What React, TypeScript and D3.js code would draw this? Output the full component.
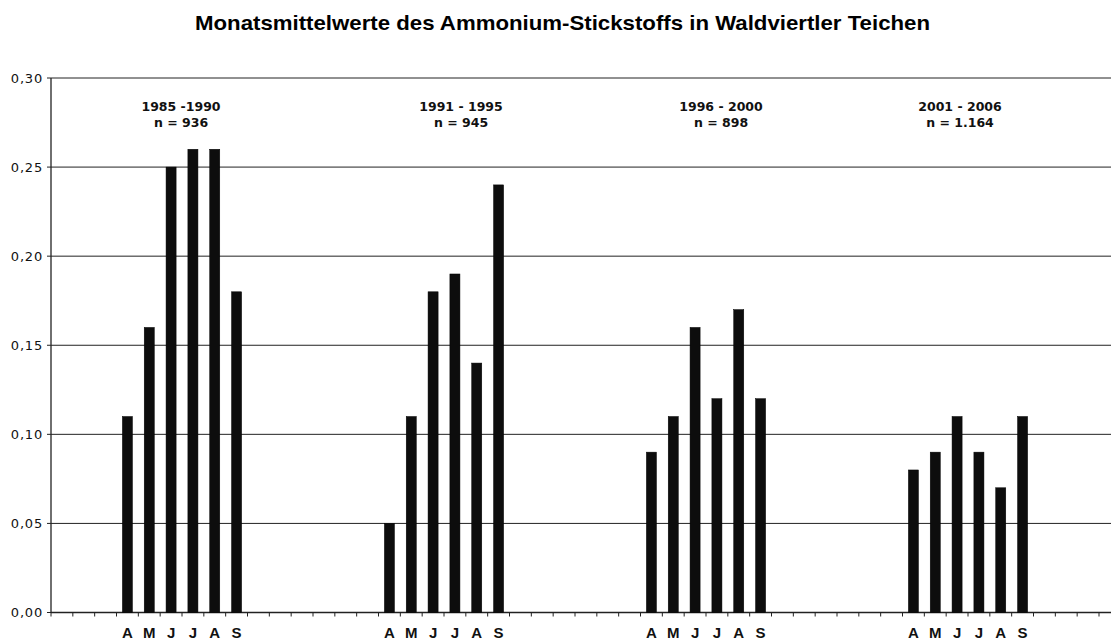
import React from "react";
import * as d3 from "d3";

const title = "Monatsmittelwerte des Ammonium-Stickstoffs in Waldviertler Teichen";
const months = ["A", "M", "J", "J", "A", "S"];
const periods = ["1985 -1990", "1991 - 1995", "1996 - 2000", "2001 - 2006"];
const sampleSizes = ["n = 936", "n = 945", "n = 898", "n = 1.164"];
const values1 = [0.11, 0.16, 0.25, 0.26, 0.26, 0.18];
const values2 = [0.05, 0.11, 0.18, 0.19, 0.14, 0.24];
const values3 = [0.09, 0.11, 0.16, 0.12, 0.17, 0.12];
const values4 = [0.08, 0.09, 0.11, 0.09, 0.07, 0.11];
const yTicks = [0, 0.05, 0.1, 0.15, 0.2, 0.25, 0.3];

const W = 1111;
const H = 641;
const left = 51;
const right = 1099;
const top = 78;
const bottom = 612.5;
const slotsPerGroup = 12;
const leadSlots = 3;

export default function App() {
  const groups = [values1, values2, values3, values4];
  const nSlots = groups.length * slotsPerGroup;
  const slotIdx = d3.range(nSlots);
  const x = d3
    .scaleBand<number>()
    .domain(slotIdx)
    .range([left, right])
    .paddingInner(0.54)
    .paddingOuter(0.27);
  const step = x.step();
  const y = d3.scaleLinear().domain([0, 0.3]).range([bottom, top]);
  const fmt = (v: number) => d3.format(".2f")(v).replace(".", ",");

  const bars: { slot: number; v: number; m: string }[] = [];
  groups.forEach((g, gi) => {
    g.forEach((v, i) => {
      bars.push({ slot: gi * slotsPerGroup + leadSlots + i, v, m: months[i] });
    });
  });

  const font = "'Liberation Sans', Arial, Helvetica, sans-serif";
  const wide = "'DejaVu Sans', Verdana, sans-serif";
  const labelOffsets = [-1, 17, 15, -8];

  return (
    <svg width={W} height={H} style={{ position: "absolute", left: 0, top: 0, background: "#fff" }}>
      <rect x={0} y={0} width={W} height={H} fill="#fff" />
      <text
        x={195}
        y={30}
        textLength={735}
        lengthAdjust="spacingAndGlyphs"
        fontFamily={font}
        fontWeight="bold"
        fontSize={21}
        fill="#000"
      >
        {title}
      </text>
      {yTicks.map((t) => (
        <g key={t}>
          {t > 0 && <line x1={left} x2={W} y1={y(t)} y2={y(t)} stroke="#222" strokeWidth={1} />}
          <line x1={left - 4} x2={left} y1={y(t)} y2={y(t)} stroke="#222" strokeWidth={1} />
          <text x={43} y={y(t) + 4.5} textAnchor="end" fontFamily={wide} fontSize={13} letterSpacing={0.8} fill="#111">
            {fmt(t)}
          </text>
        </g>
      ))}
      <line x1={left} x2={left} y1={top} y2={bottom} stroke="#222" strokeWidth={1.3} />
      <line x1={left} x2={W} y1={bottom} y2={bottom} stroke="#222" strokeWidth={1.3} />
      {d3.range(nSlots + 1).map((k) => (
        <line key={k} x1={left + k * step} x2={left + k * step} y1={bottom} y2={bottom + 4} stroke="#222" strokeWidth={1} />
      ))}
      {bars.map((b, i) => (
        <g key={i}>
          <rect x={x(b.slot)} y={y(b.v)} width={x.bandwidth()} height={bottom - y(b.v)} fill="#0d0d0d" stroke="#000" strokeWidth={0.5} />
          <text x={(x(b.slot) as number) + x.bandwidth() / 2} y={638} textAnchor="middle" fontFamily={font} fontWeight="bold" fontSize={15} fill="#111">
            {b.m}
          </text>
        </g>
      ))}
      {periods.map((p, gi) => {
        const cx = left + (gi * slotsPerGroup + leadSlots + 3) * step + labelOffsets[gi];
        return (
          <g key={p}>
            <text x={cx} y={111} textAnchor="middle" fontFamily={wide} fontWeight="bold" fontSize={12.5} fill="#111">
              {p}
            </text>
            <text x={cx} y={127} textAnchor="middle" fontFamily={wide} fontWeight="bold" fontSize={12.5} fill="#111">
              {sampleSizes[gi]}
            </text>
          </g>
        );
      })}
    </svg>
  );
}
